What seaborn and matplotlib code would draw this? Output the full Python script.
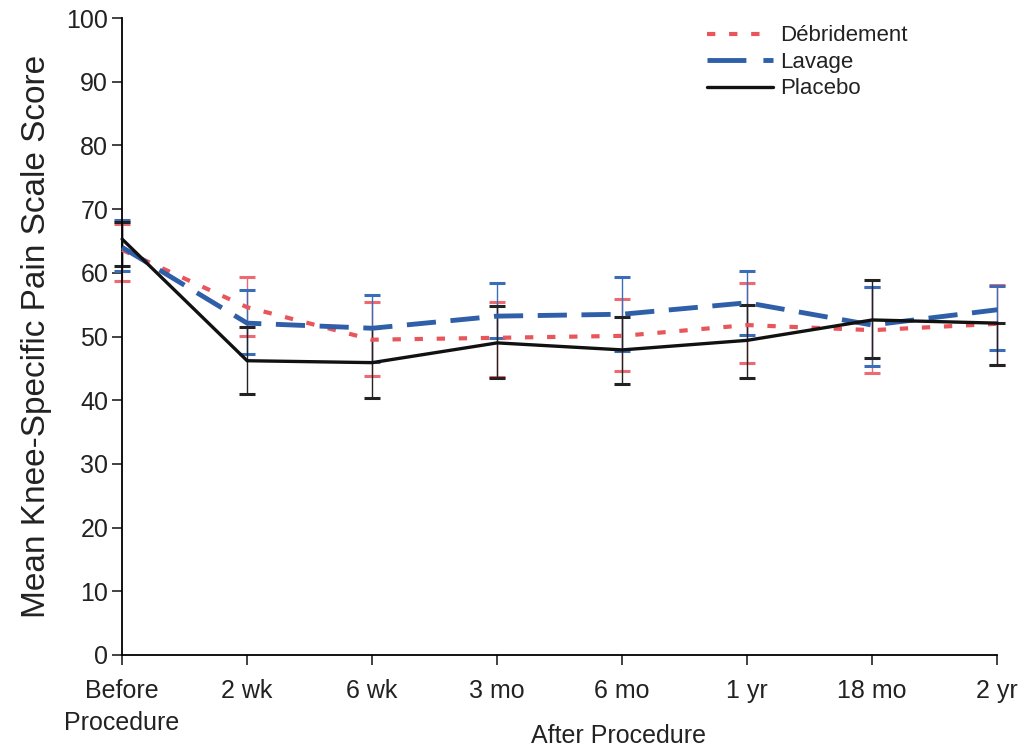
import numpy as np
import pandas as pd
import seaborn as sns
import matplotlib.pyplot as plt
from matplotlib.lines import Line2D

sns.set_style("white")
plt.rcParams['font.family'] = ['Liberation Sans', 'DejaVu Sans']
plt.rcParams['text.color'] = '#222222'
plt.rcParams['axes.labelcolor'] = '#222222'
plt.rcParams['xtick.color'] = '#222222'
plt.rcParams['ytick.color'] = '#222222'

TIMEPOINTS = ['Before\nProcedure', '2 wk', '6 wk', '3 mo', '6 mo', '1 yr', '18 mo', '2 yr']

# means and error bar ends
debr_mean = [63.6, 54.6, 49.5, 49.8, 50.1, 51.8, 51.0, 52.0]
debr_low = [58.7, 50.1, 43.8, 43.6, 44.6, 45.8, 44.3, 45.5]
debr_high = [67.7, 59.4, 55.4, 55.4, 55.9, 58.4, 57.8, 58.1]

lav_mean = [64.0, 52.1, 51.3, 53.2, 53.5, 55.3, 51.8, 54.2]
lav_low = [60.3, 47.3, 46.0, 49.8, 47.7, 50.3, 45.4, 47.9]
lav_high = [68.3, 57.3, 56.5, 58.4, 59.3, 60.3, 57.7, 58.0]

plac_mean = [65.3, 46.2, 45.9, 49.0, 47.9, 49.4, 52.6, 52.1]
plac_low = [61.0, 41.0, 40.4, 43.5, 42.5, 43.5, 46.6, 45.5]
plac_high = [68.0, 51.5, 51.3, 54.8, 53.0, 55.0, 58.9, 52.1]

GROUPS = {
    'Débridement': (debr_mean, debr_low, debr_high),
    'Lavage': (lav_mean, lav_low, lav_high),
    'Placebo': (plac_mean, plac_low, plac_high),
}
COLORS = {'Débridement': '#e8555a', 'Lavage': '#2f5fa8', 'Placebo': '#111111'}
BAR_COLORS = {'Débridement': '#ec6a72', 'Lavage': '#3a6cb8', 'Placebo': '#222222'}
DASHES = {'Débridement': (2, 3.3), 'Lavage': (6, 3), 'Placebo': ''}
WIDTHS = {'Débridement': 3.0, 'Lavage': 3.5, 'Placebo': 2.4}

rows = []
for name, (m, lo, hi) in GROUPS.items():
    for i, t in enumerate(TIMEPOINTS):
        rows.append({'Group': name, 'x': i, 'Score': m[i], 'lo': lo[i], 'hi': hi[i]})
df = pd.DataFrame(rows)

fig = plt.figure(figsize=(10.26, 7.52), dpi=100)
ax = fig.add_axes([0.119, 0.129, 0.853, 0.847])

for name in GROUPS:
    sub = df[df['Group'] == name]
    ax.errorbar(sub['x'], sub['Score'],
                yerr=[sub['Score'] - sub['lo'], sub['hi'] - sub['Score']],
                fmt='none', ecolor=BAR_COLORS[name], elinewidth=1.0,
                capsize=5.5, capthick=2.2, zorder=2, clip_on=False)

sns.lineplot(data=df, x='x', y='Score', hue='Group', style='Group',
             palette=COLORS, dashes=DASHES, legend=False, ax=ax, zorder=3)
for line, name in zip(ax.get_lines()[-3:], GROUPS):
    line.set_linewidth(WIDTHS[name])
    line.set_clip_on(False)

ax.set_xlim(0, 7)
ax.set_ylim(0, 100)
ax.set_yticks(range(0, 101, 10))
ax.set_xticks(range(len(TIMEPOINTS)))
ax.set_xticklabels(TIMEPOINTS, fontsize=18, linespacing=1.45)
ax.tick_params(axis='y', labelsize=18, direction='out', length=7, width=1.2, left=True, pad=3)
ax.tick_params(axis='x', direction='out', length=7, width=1.2, bottom=True, pad=10)
ax.set_xlabel('After Procedure', fontsize=18)
ax.xaxis.set_label_coords(0.567, -0.108)
ax.set_ylabel('Mean Knee-Specific Pain Scale Score', fontsize=24, labelpad=10)
for side in ['top', 'right']:
    ax.spines[side].set_visible(False)
for side in ['left', 'bottom']:
    ax.spines[side].set_linewidth(1.3)
    ax.spines[side].set_color('black')

handles = []
for n in GROUPS:
    h = Line2D([0], [0], color=COLORS[n], lw=WIDTHS[n])
    if DASHES[n]:
        h.set_dashes(DASHES[n])
    handles.append(h)
handles[1].set_dashes((8, 3.5))
ax.legend(handles, list(GROUPS), loc='upper left', bbox_to_anchor=(0.645, 1.02),
          frameon=False, fontsize=16, handlelength=3.0, handletextpad=0.3,
          labelspacing=0.25)

fig.savefig('out.png', dpi=100)
